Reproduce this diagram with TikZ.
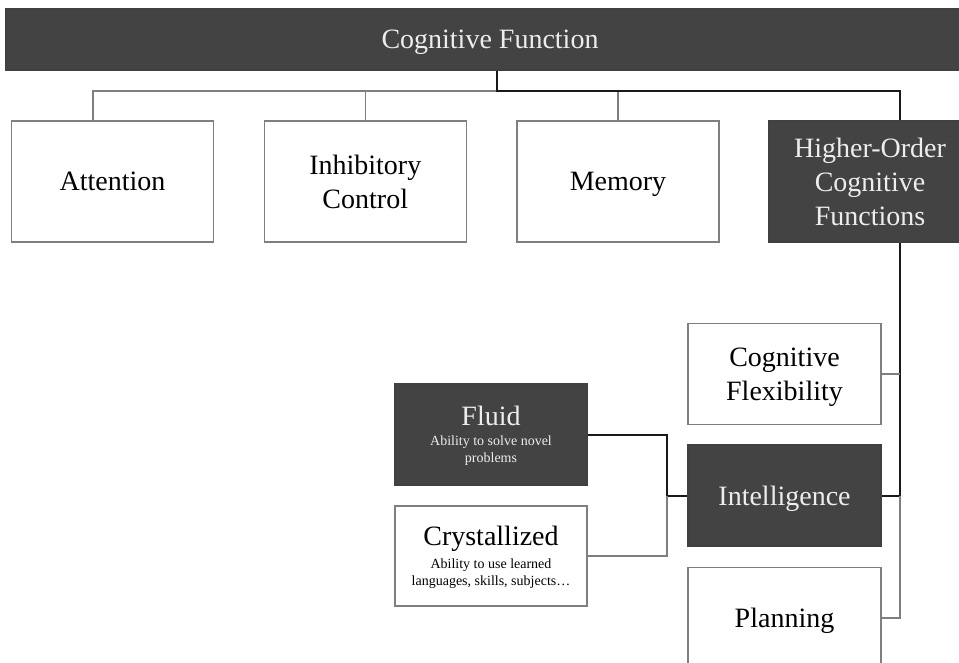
\documentclass[tikz,border=0pt]{standalone}
\usepackage{fontspec}
\setmainfont{Liberation Serif}
\usetikzlibrary{positioning}

\definecolor{boxdark}{HTML}{434343}
\definecolor{edgegray}{HTML}{7F7F7F}

\tikzset{
  every box/.style={line width=1.2pt, align=center, inner sep=0pt,
    minimum width=202pt, minimum height=121pt, text depth=0pt,
    font=\fontsize{28}{34}\selectfont},
  light box/.style={every box, draw=edgegray, fill=white, text=black},
  dark box/.style={every box, draw=black!75, fill=boxdark, text=white!93!black},
  small box/.style={minimum width=193pt, minimum height=101pt},
  thin link/.style={draw=edgegray, line width=1.2pt},
  thick link/.style={draw=black!90, line width=2pt},
}

\begin{document}
\begin{tikzpicture}[x=1pt, y=-1pt]
\useasboundingbox (0,0) rectangle (959,663);
\clip (0,0) rectangle (959,663);

\node [dark box, minimum width=968pt, minimum height=61pt] (cogfn) at (490,39.5) {Cognitive Function};

\foreach \n/\t [count=\i from 0] in {attn/Attention, inhib/{Inhibitory\\Control}, memory/Memory}
  \node [light box] (\n) at (112.5+\i*252.75,181.5) {\t};

\node [dark box] (higher) at (870,181.5) {Higher-Order\\Cognitive\\Functions};

\node [light box, small box] (flex) at (784.5,374) {Cognitive\\Flexibility};
\node [dark box, small box] (intel) at (784.5,495.5) {Intelligence};
\node [light box, small box] (plan) at (784.5,618) {Planning};

\node [dark box, small box, minimum width=192pt] (fluid) at (491,434.5)
  {Fluid\\[-14pt]{\fontsize{14}{17}\selectfont Ability to solve novel}\\[-17pt]{\fontsize{14}{17}\selectfont problems}};
\node [light box, small box, minimum width=192pt, minimum height=100pt] (crystal) at (491,556)
  {Crystallized\\[-11pt]{\fontsize{14}{17}\selectfont Ability to use learned}\\[-17pt]{\fontsize{14}{17}\selectfont languages, skills, subjects\dots}};

\coordinate (hub) at (497,91);
\coordinate (spine) at (900,91);
\coordinate (fork) at (667,495.5);

% top level
\draw [thin link] ([xshift=-19.5pt]attn.north) |- (hub);
\draw [thin link] (inhib.north) -- (inhib.north |- hub);
\draw [thin link] (memory.north) -- (memory.north |- hub);
\draw [thick link] (cogfn.south -| hub) -- (hub) -- (spine) -- (higher.north -| spine);

% higher-order branch
\draw [thick link] (higher.south -| spine) |- (intel.east);
\draw [thin link] (flex.east) -- (flex.east -| spine);
\draw [thin link] (intel.east -| spine) |- (plan.east);

% intelligence branch
\draw [thick link] (fluid.east) -| (fork) -- (intel.west);
\draw [thin link] (crystal.east) -| (fork);

\end{tikzpicture}
\end{document}
